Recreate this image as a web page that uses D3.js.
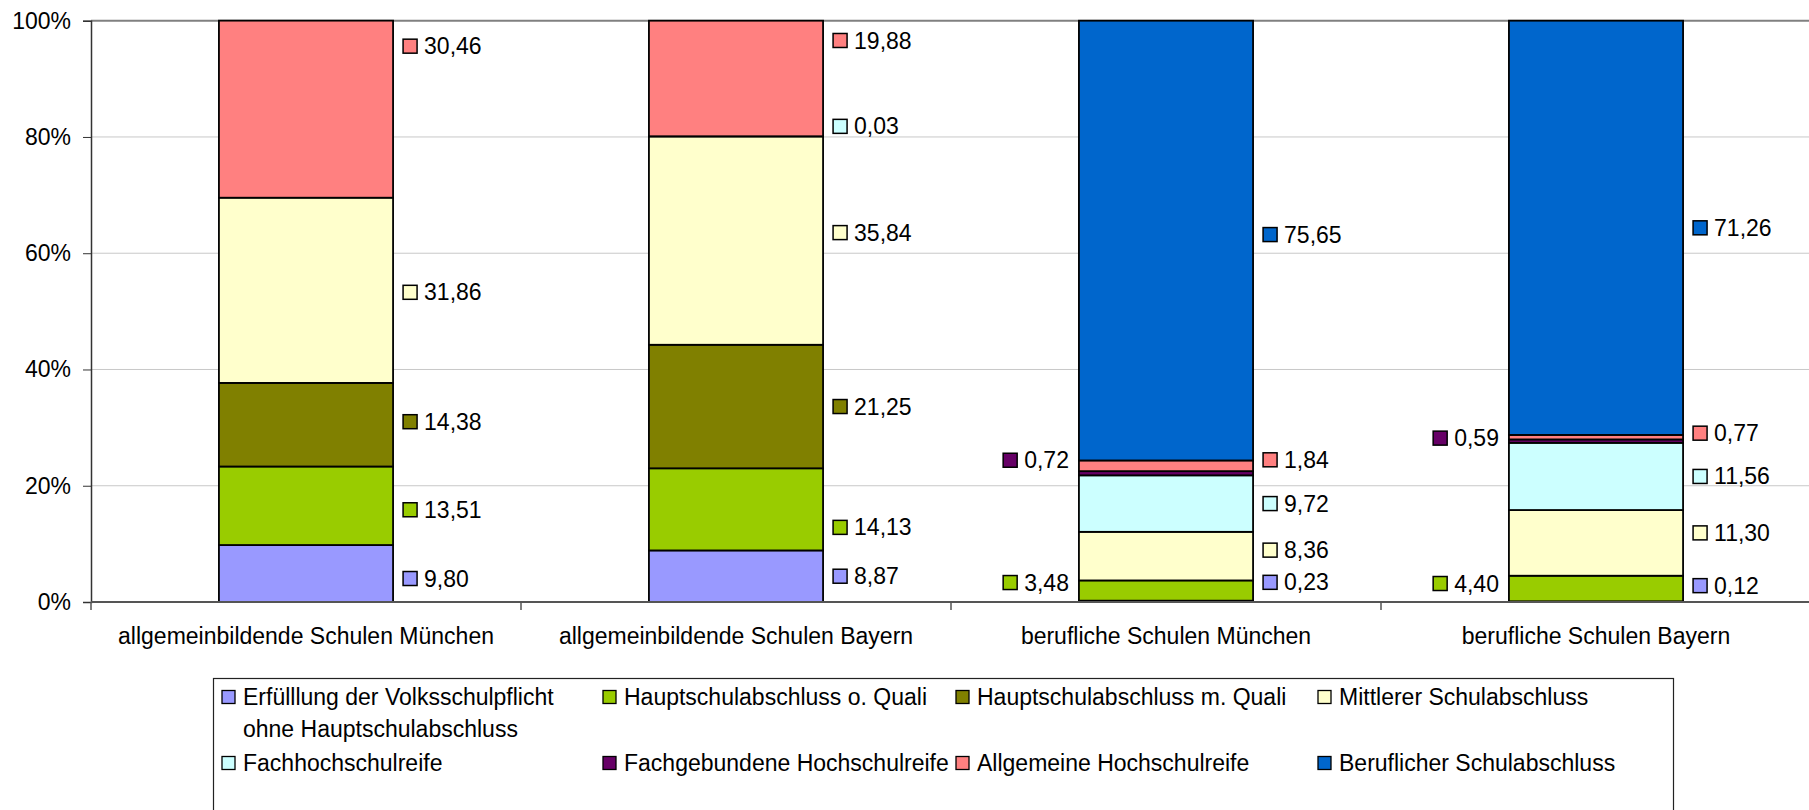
<!DOCTYPE html>
<html>
<head>
<meta charset="utf-8">
<script src="https://cdn.jsdelivr.net/npm/d3@7"></script>
<style>
  body { margin: 0; background: #fff; }
  svg { display: block; font-family: "Liberation Sans", Arial, sans-serif; }
</style>
</head>
<body>
<svg id="chart" width="1809" height="810"></svg>
<script>
let categories = [
  'allgemeinbildende Schulen München',
  'allgemeinbildende Schulen Bayern',
  'berufliche Schulen München',
  'berufliche Schulen Bayern'
];

let seriesNames = [
  'Erfülllung der Volksschulpflicht ohne Hauptschulabschluss',
  'Hauptschulabschluss o. Quali',
  'Hauptschulabschluss m. Quali',
  'Mittlerer Schulabschluss',
  'Fachhochschulreife',
  'Fachgebundene Hochschulreife',
  'Allgemeine Hochschulreife',
  'Beruflicher Schulabschluss'
];

// shares in % per category (bottom to top of the stack)
let volksschule = [9.80, 8.87, 0.23, 0.12];
let hauptOhne   = [13.51, 14.13, 3.48, 4.40];
let hauptMit    = [14.38, 21.25, 0, 0];
let mittlerer   = [31.86, 35.84, 8.36, 11.30];
let fhr         = [0, 0.03, 9.72, 11.56];
let fachgeb     = [0, 0, 0.72, 0.59];
let allgHR      = [30.46, 19.88, 1.84, 0.77];
let beruflich   = [0, 0, 75.65, 71.26];

let yTicks = [0, 20, 40, 60, 80, 100];

let colors = ['#9999ff', '#99cc00', '#808000', '#ffffcc', '#ccffff', '#660066', '#ff8080', '#0066cc'];

// label layout: which labels sit left of the bar, and small hand shifts (px) like in the original
let leftLabels = {'2-1': true, '2-5': true, '3-1': true, '3-5': true};
let labelShift = {
  '0-0': 5, '0-1': 4, '0-2': -3, '0-3': 2, '0-6': -63,
  '1-1': 18, '1-3': -8, '1-4': -10, '1-6': -38,
  '2-0': -19, '2-1': -8, '2-3': -6, '2-5': -13, '2-6': -6, '2-7': -6,
  '3-0': -16, '3-1': -5, '3-3': -10, '3-5': -3, '3-6': -4
};

let seriesValues = [volksschule, hauptOhne, hauptMit, mittlerer, fhr, fachgeb, allgHR, beruflich];
let table = categories.map(function(c, ci) {
  let row = {cat: c};
  seriesValues.forEach(function(s, si) { row['s' + si] = s[ci]; });
  return row;
});
let keys = seriesNames.map(function(d, i) { return 's' + i; });
let stacked = d3.stack().keys(keys)(table);

let fmt = function(v) { return d3.format('.2f')(v).replace('.', ','); };

let svg = d3.select('#chart');
let plotLeft = 91, plotTop = 20.7, plotBottom = 602, plotRight = 1811;

let x = d3.scaleBand().domain(categories).range([plotLeft, plotRight]).paddingInner(0.595).paddingOuter(0.2975);
let y = d3.scaleLinear().domain([0, 100]).range([plotBottom, plotTop]);

// grid
svg.append('g').selectAll('line').data(yTicks.filter(function(t) { return t > 0; }))
  .join('line')
  .attr('x1', plotLeft).attr('x2', 1809)
  .attr('y1', function(d) { return y(d); }).attr('y2', function(d) { return y(d); })
  .attr('stroke', function(d) { return d == 100 ? '#808080' : '#c8c8c8'; })
  .attr('stroke-width', function(d) { return d == 100 ? 2 : 1; });

// bars
let layers = svg.append('g').selectAll('g').data(stacked).join('g')
  .attr('fill', function(d, i) { return colors[i]; });
layers.selectAll('rect')
  .data(function(d) { return d.filter(function(p) { return p[1] - p[0] > 0; }); })
  .join('rect')
  .attr('x', function(d) { return x(d.data.cat); })
  .attr('width', x.bandwidth())
  .attr('y', function(d) { return y(d[1]); })
  .attr('height', function(d) { return y(d[0]) - y(d[1]); })
  .attr('stroke', '#000').attr('stroke-width', 1.8);

// axes
let yAxis = svg.append('g').attr('transform', 'translate(' + plotLeft + ',0)')
  .call(d3.axisLeft(y).tickValues(yTicks).tickSize(8).tickPadding(12).tickFormat(function(d) { return d + '%'; }));
yAxis.attr('font-family', null);
yAxis.select('.domain').attr('stroke', '#333').attr('stroke-width', 1.5);
yAxis.selectAll('.tick line').attr('stroke', '#333');
yAxis.selectAll('text').attr('font-size', 23).attr('fill', '#000');

let xg = svg.append('g');
xg.append('line').attr('x1', plotLeft).attr('x2', 1809).attr('y1', plotBottom).attr('y2', plotBottom)
  .attr('stroke', '#555').attr('stroke-width', 2);
xg.selectAll('line.tk').data(d3.range(categories.length + 1)).join('line').attr('class', 'tk')
  .attr('x1', function(i) { return plotLeft + i * x.step(); })
  .attr('x2', function(i) { return plotLeft + i * x.step(); })
  .attr('y1', plotBottom).attr('y2', plotBottom + 8)
  .attr('stroke', '#555').attr('stroke-width', 1.5);
xg.selectAll('text').data(categories).join('text')
  .attr('x', function(d) { return x(d) + x.bandwidth() / 2; })
  .attr('y', 636).attr('dy', '0.35em')
  .attr('text-anchor', 'middle').attr('font-size', 23)
  .text(function(d) { return d; });

// data labels
let labels = [];
stacked.forEach(function(layer, si) {
  layer.forEach(function(p, ci) {
    let v = p[1] - p[0];
    if (v <= 0) return;
    let k = ci + '-' + si;
    labels.push({ci: ci, si: si, v: v, side: leftLabels[k] ? 'left' : 'right',
      y: y((p[0] + p[1]) / 2) + (labelShift[k] || 0)});
  });
});

let lab = svg.append('g').selectAll('g').data(labels).join('g');
lab.each(function(d) {
  let g = d3.select(this);
  let t = g.append('text').attr('font-size', 23).attr('dy', '0.35em').attr('y', d.y).text(fmt(d.v));
  let w = t.node().getComputedTextLength();
  let bx = x(categories[d.ci]);
  let sx = d.side == 'right' ? bx + x.bandwidth() + 10 : bx - 10 - w - 21;
  t.attr('x', sx + 21);
  g.append('rect').attr('x', sx).attr('y', d.y - 7).attr('width', 14).attr('height', 14)
    .attr('fill', colors[d.si]).attr('stroke', '#000').attr('stroke-width', 1.5);
});

// legend
let legCols = [222, 603, 956, 1318], legRows = [697, 763];
svg.append('rect').attr('x', 213.5).attr('y', 678.5).attr('width', 1460).attr('height', 160)
  .attr('fill', 'none').attr('stroke', '#222').attr('stroke-width', 1.2);
let leg = svg.append('g').selectAll('g').data(seriesNames).join('g')
  .attr('transform', function(d, i) { return 'translate(' + legCols[i % 4] + ',' + legRows[Math.floor(i / 4)] + ')'; });
leg.append('rect').attr('x', 0).attr('y', -6.5).attr('width', 13).attr('height', 13)
  .attr('fill', function(d, i) { return colors[i]; }).attr('stroke', '#000').attr('stroke-width', 1.3);
leg.append('text').attr('x', 21).attr('dy', '0.35em').attr('font-size', 23)
  .each(function(d, i) {
    let t = d3.select(this);
    if (i == 0) {
      t.append('tspan').attr('x', 21).text('Erfülllung der Volksschulpflicht');
      t.append('tspan').attr('x', 21).attr('dy', 32).text('ohne Hauptschulabschluss');
    } else {
      t.text(d);
    }
  });
</script>
</body>
</html>
